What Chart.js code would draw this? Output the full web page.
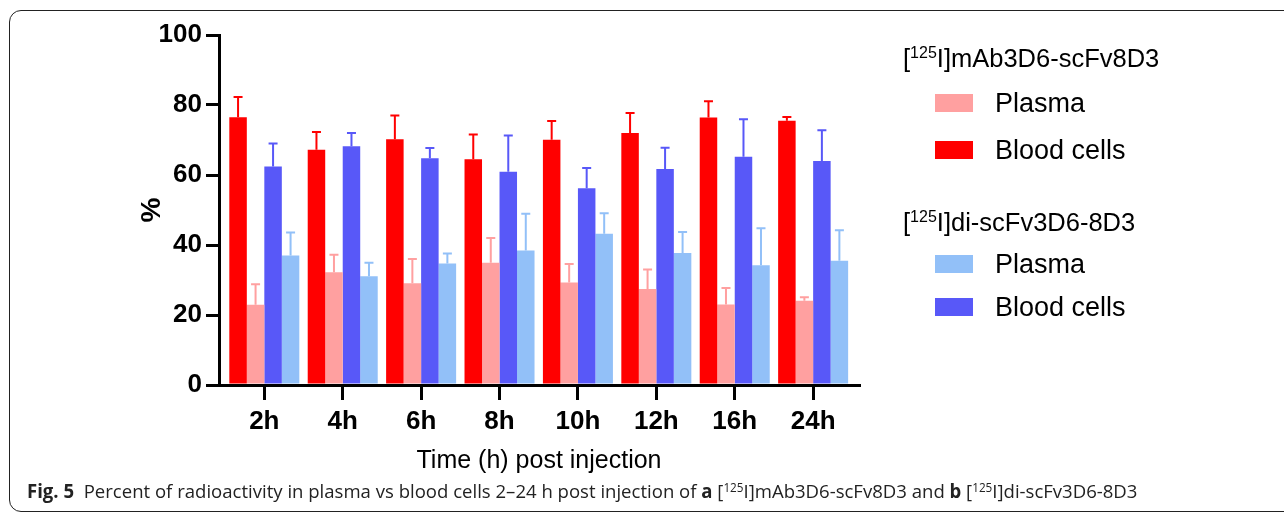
<!DOCTYPE html>
<html>
<head>
<meta charset="utf-8">
<script src="https://cdn.jsdelivr.net/npm/chart.js@4/dist/chart.umd.min.js"></script>
<style>
  body { margin: 0; width: 1284px; height: 513px; background: #fff; position: relative; overflow: hidden; font-family: "Liberation Sans", Arial, sans-serif; }
  #frame { position: absolute; left: 9px; top: 10px; width: 1300px; height: 500px; border: 1.5px solid #222; border-radius: 12px; }
  #wrap { position: absolute; left: 0; top: 0; width: 1284px; height: 480px; }
  #legend { position: absolute; left: 903px; top: 0; color: #000; }
  .head { position: absolute; left: 0; white-space: nowrap; font-size: 25.5px; line-height: 25px; }
  .head sup { font-size: 16px; vertical-align: 9px; line-height: 0; }
  .item { position: absolute; left: 32px; white-space: nowrap; font-size: 27px; line-height: 27px; }
  .sw { position: absolute; left: 0; width: 38px; height: 18px; }
  .item span { position: absolute; left: 60px; top: -4px; }
  #caption { position: absolute; left: 27px; top: 478px; font-family: "Open Sans", sans-serif; font-size: 19px; color: #222; white-space: nowrap; transform-origin: 0 0; }
  #caption sup { font-size: 12px; vertical-align: 6px; line-height: 0; }
</style>
</head>
<body>
<div id="frame"></div>
<div id="wrap"><canvas id="chart"></canvas></div>
<div id="legend"></div>
<div id="caption"><b>Fig. 5</b>&nbsp; Percent of radioactivity in plasma vs blood cells 2–24 h post injection of <b>a</b> [<sup>125</sup>I]mAb3D6-scFv8D3 and <b>b</b> [<sup>125</sup>I]di-scFv3D6-8D3</div>
<script>
const categories = ["2h", "4h", "6h", "8h", "10h", "12h", "16h", "24h"];

// [125I]mAb3D6-scFv8D3
const mabBlood = [76.5, 67.2, 70.2, 64.5, 70.1, 72.0, 76.4, 75.5];
const mabBloodSd = [5.8, 5.1, 6.8, 7.1, 5.3, 5.7, 4.7, 1.1];
const mabPlasma = [22.9, 32.2, 29.1, 34.9, 29.3, 27.4, 23.0, 24.1];
const mabPlasmaSd = [5.9, 5.0, 6.9, 7.1, 5.3, 5.6, 4.7, 1.0];

// [125I]di-scFv3D6-8D3
const diBlood = [62.4, 68.2, 64.8, 60.9, 56.2, 61.7, 65.2, 64.0];
const diBloodSd = [6.6, 3.8, 2.9, 10.4, 5.8, 6.1, 10.7, 8.8];
const diPlasma = [37.0, 31.1, 34.7, 38.4, 43.2, 37.7, 34.2, 35.5];
const diPlasmaSd = [6.6, 3.8, 2.9, 10.5, 5.9, 6.0, 10.6, 8.7];

const yTicks = [0, 20, 40, 60, 80, 100];

const groups = [
  { title: "mAb3D6-scFv8D3", items: [["Plasma", "#ffa0a0"], ["Blood cells", "#ff0000"]] },
  { title: "di-scFv3D6-8D3", items: [["Plasma", "#92c0f8"], ["Blood cells", "#5858f8"]] }
];

// legend (HTML, for the superscripts)
const legend = document.getElementById("legend");
const headY = [46, 210];
const rowY = [[94, 141], [255, 298]];
groups.forEach((g, gi) => {
  const h = document.createElement("div");
  h.className = "head";
  h.style.top = headY[gi] + "px";
  h.innerHTML = "[<sup>125</sup>I]" + g.title;
  legend.appendChild(h);
  g.items.forEach((it, ii) => {
    const d = document.createElement("div");
    d.className = "item";
    d.style.top = rowY[gi][ii] + "px";
    d.innerHTML = '<div class="sw" style="background:' + it[1] + '"></div><span>' + it[0] + "</span>";
    legend.appendChild(d);
  });
});

const cap = document.getElementById("caption");
cap.style.transform = "scaleX(" + (1110 / cap.offsetWidth) + ")";

const toXY = (arr) => arr.map((v, i) => ({ x: i, y: v }));

const errorBars = {
  id: "errorBars",
  afterDatasetsDraw(chart) {
    const ctx = chart.ctx;
    const y = chart.scales.y;
    chart.data.datasets.forEach((ds, di) => {
      const meta = chart.getDatasetMeta(di);
      meta.data.forEach((bar, i) => {
        const top = y.getPixelForValue(ds.data[i].y + ds.sd[i]);
        ctx.save();
        ctx.strokeStyle = ds.backgroundColor;
        ctx.lineWidth = 2;
        ctx.beginPath();
        ctx.moveTo(bar.x, bar.y);
        ctx.lineTo(bar.x, top);
        ctx.moveTo(bar.x - 4.5, top);
        ctx.lineTo(bar.x + 4.5, top);
        ctx.stroke();
        ctx.restore();
      });
    });
  }
};

new Chart(document.getElementById("chart"), {
  type: "bar",
  data: {
    datasets: [
      { label: "Blood cells", data: toXY(mabBlood), sd: mabBloodSd, backgroundColor: "#ff0000" },
      { label: "Plasma", data: toXY(mabPlasma), sd: mabPlasmaSd, backgroundColor: "#ffa0a0" },
      { label: "Blood cells", data: toXY(diBlood), sd: diBloodSd, backgroundColor: "#5858f8" },
      { label: "Plasma", data: toXY(diPlasma), sd: diPlasmaSd, backgroundColor: "#92c0f8" }
    ]
  },
  options: {
    responsive: true,
    maintainAspectRatio: false,
    animation: false,
    categoryPercentage: 0.893,
    barPercentage: 1.0,
    layout: { padding: { left: 130, right: 425, top: 35, bottom: 0 } },
    plugins: { legend: { display: false }, tooltip: { enabled: false } },
    scales: {
      x: {
        type: "linear",
        offset: false,
        min: -0.578,
        max: 7.585,
        afterBuildTicks: (s) => { s.ticks = categories.map((c, i) => ({ value: i })); },
        afterFit: (s) => { s.height = 95; },
        ticks: {
          callback: (v) => categories[v],
          color: "#000",
          font: { family: "Liberation Sans, Arial", size: 26, weight: "bold" },
          padding: 6,
          maxRotation: 0
        },
        grid: { offset: false, drawOnChartArea: false, drawTicks: true, tickLength: 15, color: "#000", lineWidth: 3 },
        border: { display: true, color: "#000", width: 3 },
        title: {
          display: true,
          text: "Time (h) post injection",
          color: "#000",
          font: { family: "Liberation Sans, Arial", size: 25 },
          padding: { top: 0, bottom: 4 }
        }
      },
      y: {
        min: 0,
        max: 100,
        afterBuildTicks: (s) => { s.ticks = yTicks.map((v) => ({ value: v })); },
        afterFit: (s) => { s.width = 89; },
        ticks: {
          color: "#000",
          font: { family: "Liberation Sans, Arial", size: 26, weight: "bold" },
          padding: 4
        },
        grid: { drawOnChartArea: false, drawTicks: true, tickLength: 13, color: "#000", lineWidth: 3 },
        border: { display: true, color: "#000", width: 3 },
        title: {
          display: true,
          text: "%",
          color: "#000",
          font: { family: "Liberation Sans, Arial", size: 28, weight: "bold" },
          padding: { top: 5, bottom: 0 }
        }
      }
    }
  },
  plugins: [errorBars]
});
</script>
</body>
</html>
